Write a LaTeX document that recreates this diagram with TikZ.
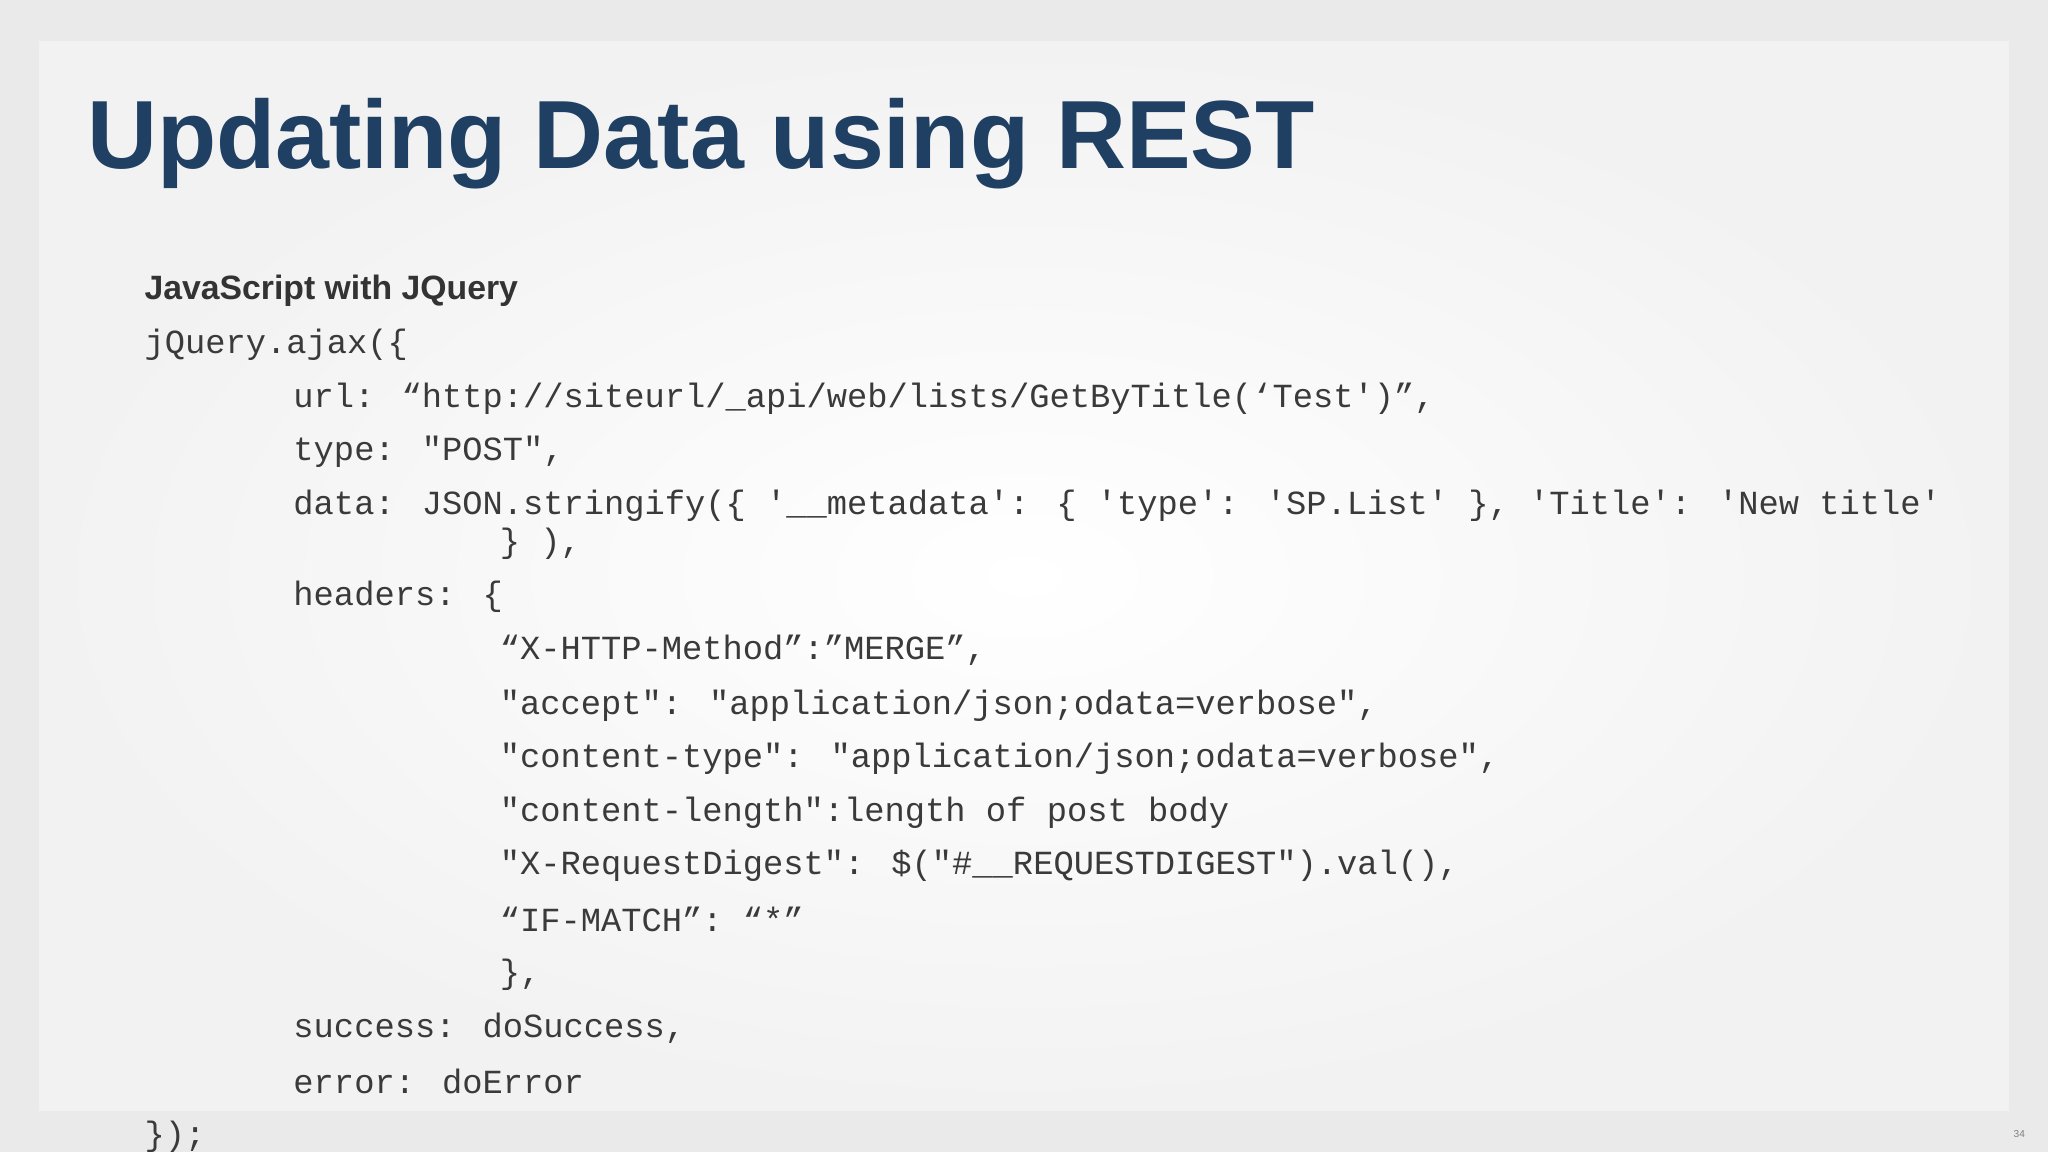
\documentclass[tikz,border=0pt]{standalone}
\usepackage{fontspec}
\setmainfont{Liberation Sans}
\newfontfamily\codefont{Liberation Mono}
\definecolor{titleblue}{HTML}{1F3F63}
\definecolor{outerbg}{HTML}{EAEAEA}
\definecolor{innerbg}{HTML}{F2F2F2}
\definecolor{codegray}{HTML}{3A3A3A}
\tikzset{
  code/.style={anchor=west,inner sep=0pt,font=\codefont\fontsize{7.35pt}{8pt}\selectfont,text=codegray},
}
\begin{document}
\begin{tikzpicture}[x=0.01cm,y=-0.01cm]
\useasboundingbox (0,0) rectangle (1568,882);
\fill[outerbg] (0,0) rectangle (1568,882);
\shade[inner color=white,outer color=innerbg] (30,32) rectangle (1538,850);
\node[anchor=west,inner sep=0pt,font=\bfseries\fontsize{21.1pt}{23pt}\selectfont,text=titleblue] (title) at (66,110) {Updating Data using REST};
\node[anchor=west,inner sep=0pt,font=\bfseries\fontsize{7.35pt}{8pt}\selectfont,text=black!80] (sub) at (110,223) {JavaScript with JQuery};
\node[code] (l1) at (110,264) {jQuery.ajax(\{};
\node[code] (l2) at (224,305) {url: “http://siteurl/\_api/web/lists/GetByTitle(‘Test')”,};
\node[code] (l3) at (224,346) {type: "POST",};
\node[code] (l4) at (224,387) {data: JSON.stringify(\{ '\_\_metadata': \{ 'type': 'SP.List' \}, 'Title': 'New title'};
\node[code] (l4b) at (382,416) {\} ),};
\node[code] (l5) at (224,457) {headers: \{};
\node[code] (l6) at (382,498) {“X-HTTP-Method”:”MERGE”,};
\node[code] (l7) at (382,540) {"accept": "application/json;odata=verbose",};
\node[code] (l8) at (382,581) {"content-type": "application/json;odata=verbose",};
\node[code] (l9) at (382,622) {"content-length":length of post body};
\node[code] (l10) at (382,663) {"X-RequestDigest": \$("\#\_\_REQUESTDIGEST").val(),};
\node[code] (l11) at (382,704) {“IF-MATCH”: “*”};
\node[code] (l12) at (382,746) {\},};
\node[code] (l13) at (224,787) {success: doSuccess,};
\node[code] (l14) at (224,828) {error: doError};
\node[code] (l15) at (110,870) {\});};
\node[anchor=center,inner sep=0pt,font=\fontsize{2.2pt}{3pt}\selectfont,text=black!50] (num) at (1546,868) {34};
\end{tikzpicture}
\end{document}
